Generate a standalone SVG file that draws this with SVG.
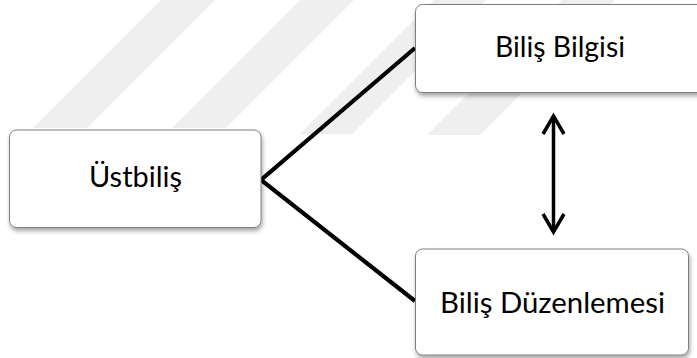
<svg xmlns="http://www.w3.org/2000/svg" width="697" height="358" viewBox="0 0 697 358">
  <defs>
    <filter id="shadow" x="-10%" y="-10%" width="125%" height="135%">
      <feDropShadow dx="1" dy="3" stdDeviation="2" flood-color="#000" flood-opacity="0.35"/>
    </filter>
    <marker id="chev" markerUnits="userSpaceOnUse" viewBox="0 0 26 26" markerWidth="26" markerHeight="26" refX="21" refY="12" orient="auto-start-reverse" overflow="visible">
      <path d="M3,1.5 L21,12 L3,22.5" fill="none" stroke="#000" stroke-width="3.5" stroke-linejoin="miter"/>
    </marker>
  </defs>
  <style>
    .box { fill: #ffffff; stroke: #7f7f7f; stroke-width: 1; filter: url(#shadow); }
    .label { font-family: "Lato", "Open Sans", sans-serif; font-size: 29px; fill: #000; text-anchor: middle; }
    .conn { fill: none; stroke: #000; stroke-width: 4.2; stroke-linecap: butt; stroke-linejoin: miter; }
    .arrow { fill: none; stroke: #000; stroke-width: 3.5; }
    .wm { fill: #efefef; }
  </style>
  <rect x="0" y="0" width="697" height="358" fill="#ffffff"/>
  <g id="watermark">
    <polygon class="wm" points="33,128 87,128 215,0 161,0"/>
    <polygon class="wm" points="172,128 226,128 354,0 300,0"/>
    <polygon class="wm" points="300,134 352,134 486,0 434,0"/>
    <polygon class="wm" points="427,135 480,135 615,0 562,0"/>
  </g>
  <g id="connectors">
    <polyline class="conn" points="415,48 261,180 415,301"/>
    <line class="arrow" x1="553.5" y1="116" x2="553.5" y2="232" marker-start="url(#chev)" marker-end="url(#chev)"/>
  </g>
  <g id="node-ustbilis">
    <rect class="box" x="9.5" y="130" width="251.5" height="97.5" rx="7" ry="7"/>
    <text class="label" x="135.5" y="187" textLength="93" lengthAdjust="spacingAndGlyphs">Üstbiliş</text>
  </g>
  <g id="node-bilis-bilgisi">
    <rect class="box" x="415.5" y="4.5" width="292" height="88" rx="7" ry="7"/>
    <text class="label" x="560" y="57" textLength="130" lengthAdjust="spacingAndGlyphs">Biliş Bilgisi</text>
  </g>
  <g id="node-bilis-duzenlemesi">
    <rect class="box" x="415.5" y="249" width="273" height="106" rx="7" ry="7"/>
    <text class="label" x="552.5" y="313" textLength="225" lengthAdjust="spacingAndGlyphs">Biliş Düzenlemesi</text>
  </g>
</svg>
